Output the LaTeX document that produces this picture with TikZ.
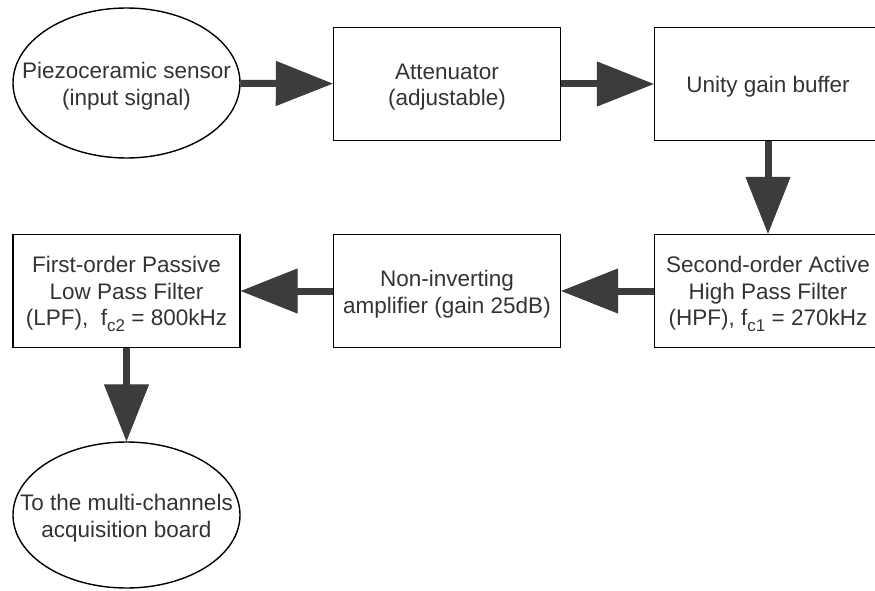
\documentclass[tikz,border=0pt]{standalone}
\usepackage{fontspec}
\setmainfont{Liberation Sans}
\usetikzlibrary{shapes.geometric,arrows.meta}
\definecolor{txt}{HTML}{333333}
\definecolor{arrowgray}{HTML}{3C3C3C}
% lowered subscript for cut-off frequencies
\newcommand{\cutsub}[1]{\raisebox{-5.5pt}{\fontsize{17}{17}\selectfont #1}}
\tikzset{
  label text/.style={font=\fontsize{22.5}{26.5}\selectfont, text=txt, align=center,
                     inner sep=0pt, yshift=-3pt},
  block/.style={draw=black, line width=1.4pt, rectangle, inner sep=0pt,
                minimum width=227pt, minimum height=113pt},
  terminal/.style={draw=black, line width=1.4pt, ellipse, inner sep=0pt,
                   minimum width=227pt, minimum height=148pt},
  flow/.style={draw=arrowgray, line width=7pt,
               -{Triangle[length=57pt,width=45pt,line width=1pt,fill=arrowgray]}},
}
\begin{document}
\begin{tikzpicture}[x=1pt, y=-1pt]
  \useasboundingbox (0,0) rectangle (875,591);
  \clip (0,0) rectangle (875,591);

  % shapes of the signal chain
  \node[terminal, minimum height=150pt] (sensor) at (126.5,83) {};
  \node[block] (att) at (447,84) {};
  \node[block] (buf) at (768,84) {};
  \node[block] (hpf) at (768,291) {};
  \node[block] (amp) at (447,291) {};
  \node[block] (lpf) at (126.5,291) {};
  \node[terminal, minimum height=146pt] (daq) at (126.5,515) {};

  % their captions
  \node[label text] (sensor-t) at (sensor) {Piezoceramic sensor\\(input signal)};
  \node[label text] (att-t) at (att) {Attenuator\\(adjustable)};
  \node[label text] (buf-t) at (buf) {Unity gain buffer};
  \node[label text] (hpf-t) at (hpf) {Second-order Active\\High Pass Filter\\(HPF), f\cutsub{c1} = 270kHz};
  \node[label text] (amp-t) at (amp) {Non-inverting\\amplifier (gain 25dB)};
  \node[label text] (lpf-t) at (lpf) {First-order Passive\\Low Pass Filter\\(LPF),\ \ f\cutsub{c2} = 800kHz};
  \node[label text] (daq-t) at (daq) {To the multi-channels\\acquisition board};

  % connections
  \draw[flow] (sensor) -- (att);
  \draw[flow] (att) -- (buf);
  \draw[flow] (buf) -- (hpf);
  \draw[flow] (hpf) -- (amp);
  \draw[flow] (amp) -- (lpf);
  \draw[flow] (lpf) -- (daq);
\end{tikzpicture}
\end{document}
